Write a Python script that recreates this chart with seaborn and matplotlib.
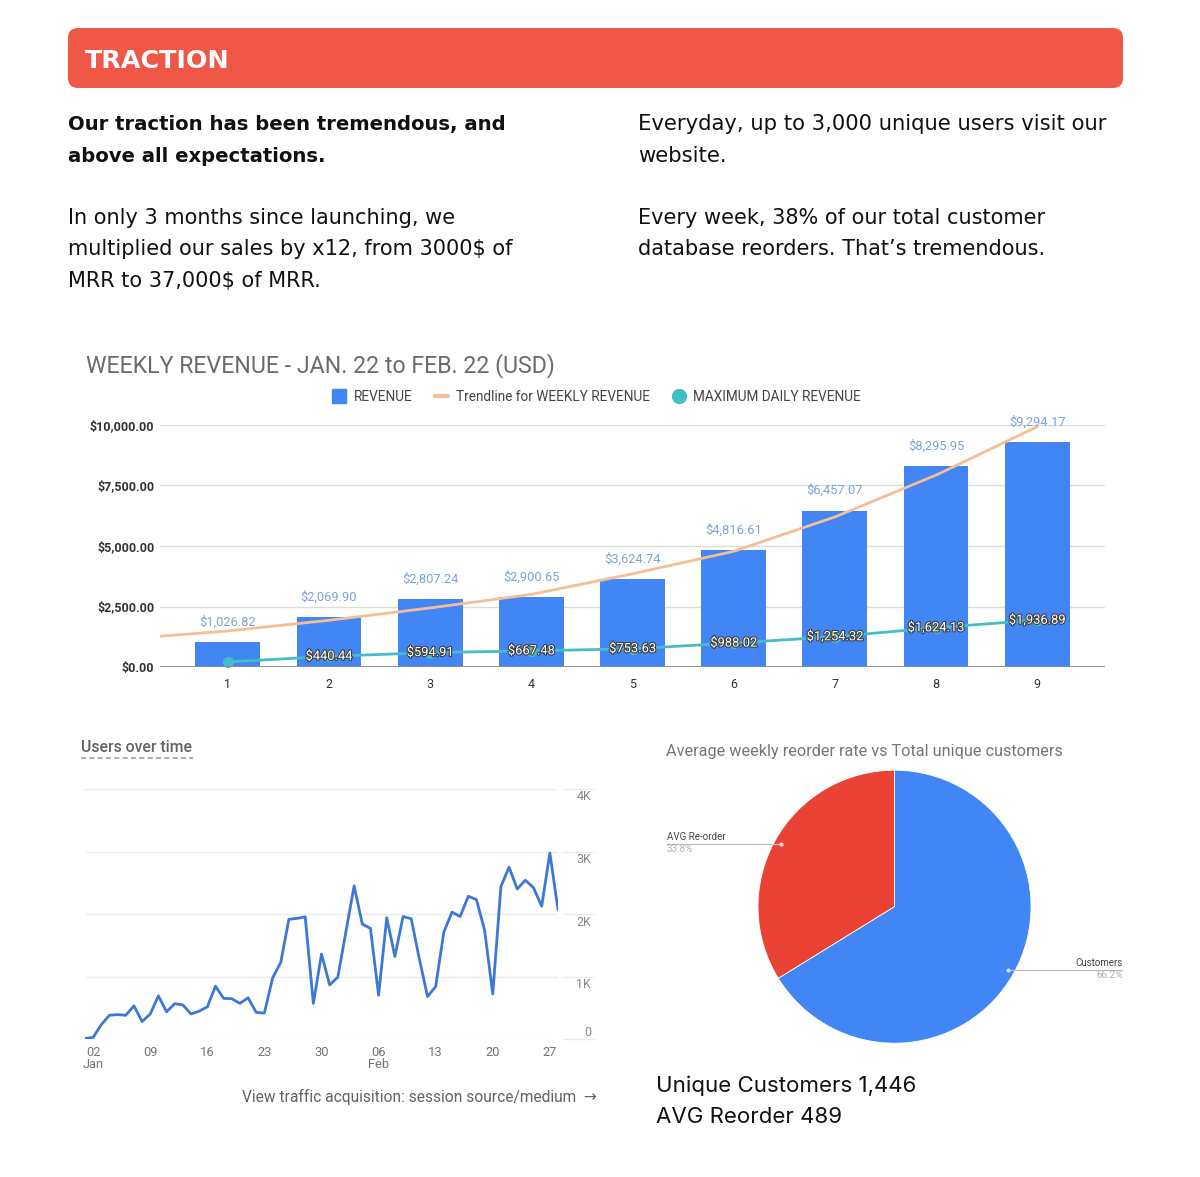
import numpy as np
import pandas as pd
import matplotlib
matplotlib.use("Agg")
import matplotlib.pyplot as plt
import matplotlib.patheffects as pe
import matplotlib.transforms as mtransforms
from matplotlib.patches import FancyBboxPatch
from matplotlib.lines import Line2D
import seaborn as sns

# ---------------- data ----------------
weeks = [1, 2, 3, 4, 5, 6, 7, 8, 9]
revenue = [1026.82, 2069.90, 2807.24, 2900.65, 3624.74, 4816.61, 6457.07, 8295.95, 9294.17]
max_daily = [210, 440.44, 594.91, 667.48, 753.63, 988.02, 1254.32, 1624.13, 1936.89]
trend_weeks = [0.33, 1, 2, 3, 4, 5, 6, 7, 8, 9]
trend_revenue = [1270, 1490, 1930, 2440, 3000, 3850, 4780, 6200, 7930, 9930]
revenue_ticks = [0, 2500, 5000, 7500, 10000]
legend_labels = ["REVENUE", "Trendline for WEEKLY REVENUE", "MAXIMUM DAILY REVENUE"]

users_jan = [10, 25, 230, 380, 390, 380, 530, 280, 400, 690, 435, 565, 545, 400, 445, 515,
             845, 650, 645, 570, 660, 425, 415, 975, 1225, 1915, 1930, 1955, 570, 1360, 865]
users_feb = [990, 1720, 2450, 1840, 1770, 700, 1940, 1320, 1960, 1925, 1280, 680, 840, 1710,
             2030, 1960, 2285, 2230, 1740, 720, 2440, 2750, 2400, 2540, 2420, 2125, 2975, 2070]
users_first_day = "2022-01-01"
users_tick_dates = ["2022-01-02", "2022-01-09", "2022-01-16", "2022-01-23", "2022-01-30",
                    "2022-02-06", "2022-02-13", "2022-02-20", "2022-02-27"]
users_tick_labels = ["02\nJan", "09", "16", "23", "30", "06\nFeb", "13", "20", "27"]
users_y_ticks = [0, 1000, 2000, 3000, 4000]
users_y_labels = ["0", "1K", "2K", "3K", "4K"]

pie_labels = ["AVG Re-order", "Customers"]
pie_shares = [33.8, 66.2]
unique_customers = 1446
avg_reorder = 489

# ---------------- style ----------------
sns.set_theme(style="white")
plt.rcParams["font.family"] = ["Roboto", "DejaVu Sans"]
TOP = ["DejaVu Sans"]
BOTTOM = ["Inter", "DejaVu Sans"]

BLUE = "#4285F4"
RED = "#EA4335"
TEAL = "#46BDC6"
PEACH = "#F5BE96"

W, H = 1200, 1177
fig = plt.figure(figsize=(12, 11.77), dpi=100)
fig.patch.set_facecolor("white")
renderer = fig.canvas.get_renderer()


def rect(x0, y0, x1, y1):
    return [x0 / W, 1 - y1 / H, (x1 - x0) / W, (y1 - y0) / H]


# background / text layer in pixel coordinates
bg = fig.add_axes([0, 0, 1, 1])
bg.set_xlim(0, W)
bg.set_ylim(H, 0)
bg.axis("off")


def text_block(x, lines, baselines, ref_idx, ref_width, **kw):
    """Draw a paragraph; one font size for the block, fitted to a reference line width."""
    arts = [bg.text(x, b, s, va="baseline", fontsize=14, **kw) for s, b in zip(lines, baselines)]
    w = arts[ref_idx].get_window_extent(renderer).width
    size = 14 * ref_width / w
    for a in arts:
        a.set_fontsize(size)
    return arts


bg.add_patch(FancyBboxPatch((68, 28), 1055, 60, boxstyle="round,pad=0,rounding_size=10",
                            fc="#EF5746", ec="none"))
text_block(85, ["TRACTION"], [68.5], 0, 145, color="white", fontweight="bold", family=TOP)

tcol = "#111111"
text_block(68, ["Our traction has been tremendous, and", "above all expectations."],
           [130, 161.5], 0, 440, fontweight="bold", family=TOP, color=tcol)
text_block(68, ["In only 3 months since launching, we",
                "multiplied our sales by x12, from 3000$ of",
                "MRR to 37,000$ of MRR."],
           [224, 255.3, 286.7], 1, 447, family=TOP, color=tcol)
text_block(638, ["Everyday, up to 3,000 unique users visit our", "website."],
           [130, 161.5], 0, 469, family=TOP, color=tcol)
text_block(638, ["Every week, 38% of our total customer",
                 "database reorders. That\u2019s tremendous."],
           [224, 255.3], 0, 410, family=TOP, color=tcol)

# ---------------- bar chart ----------------
text_block(86, ["WEEKLY REVENUE - JAN. 22 to FEB. 22 (USD)"], [372], 0, 470, color="#6b6b6b")

ax1 = fig.add_axes(rect(160, 425, 1105, 667))
ax1.set_facecolor("none")
sns.barplot(x=weeks, y=revenue, native_scale=True, width=0.64, color=BLUE, saturation=1,
            errorbar=None, ax=ax1, zorder=2, edgecolor="none")
sns.lineplot(x=trend_weeks, y=trend_revenue, color=PEACH, lw=2, ax=ax1, zorder=3)
sns.lineplot(x=weeks, y=max_daily, color=TEAL, lw=2, marker="o", markersize=8,
             markeredgewidth=0, ax=ax1, zorder=4)
ax1.set_xlim(0.33, 9.67)
ax1.set_ylim(0, 10000)
ax1.set_yticks(revenue_ticks)
ax1.set_yticklabels([f"${v:,.2f}" for v in revenue_ticks])
ax1.set_xticks(weeks)
ax1.set_xticklabels([str(w) for w in weeks])
ax1.yaxis.grid(True, color="#dcdcdc", lw=1)
ax1.set_axisbelow(True)
ax1.axhline(0, color="#8a8a8a", lw=2, zorder=5)
for s in ax1.spines.values():
    s.set_visible(False)
ax1.tick_params(axis="y", length=0, pad=4, labelsize=9, labelcolor="#333333")
ax1.tick_params(axis="x", length=0, pad=8, labelsize=9, labelcolor="#333333")
for lbl in ax1.get_yticklabels():
    lbl.set_fontweight("bold")
ax1.set_xlabel("")
ax1.set_ylabel("")

for w, r in zip(weeks, revenue):
    ax1.annotate(f"${r:,.2f}", (w, r), xytext=(0, 14.5), textcoords="offset points",
                 ha="center", va="center", fontsize=9.3, color="#7BA3DF", zorder=6)
for w, m in zip(weeks[1:], max_daily[1:]):
    ax1.text(w, m, f"${m:,.2f}", ha="center", va="center", fontsize=9.3, color="white",
             zorder=7, path_effects=[pe.withStroke(linewidth=1.6, foreground="#404040")])

handles = [Line2D([], [], marker="s", ls="none", color=BLUE, markersize=10),
           Line2D([], [], color=PEACH, lw=3),
           Line2D([], [], marker="o", ls="none", color=TEAL, markersize=10)]
fig.legend(handles, legend_labels, loc="center", bbox_to_anchor=(597 / W, 1 - 397 / H),
           ncol=3, frameon=False, fontsize=9.8, labelcolor="#444444", handlelength=0.9,
           handletextpad=0.6, columnspacing=1.7)

# ---------------- users over time ----------------
text_block(81, ["Users over time"], [752], 0, 111, color="#5f6368", fontweight="medium")
bg.plot([81, 193], [758, 758], ls=(0, (3, 2)), color="#9aa0a6", lw=1.2)

users = users_jan + users_feb
df_users = pd.DataFrame({"date": pd.date_range(users_first_day, periods=len(users), freq="D"),
                         "users": users})
ax2 = fig.add_axes(rect(85, 789, 558, 1039))
ax2.set_facecolor("none")
for v in users_y_ticks:
    ax2.axhline(v, color="#ececec", lw=1, zorder=0)
    ax2.axhline(v, xmin=1.011, xmax=1.076, color="#ececec", lw=1, zorder=0, clip_on=False)
sns.lineplot(data=df_users, x="date", y="users", color="#3b78d8", lw=2, ax=ax2, zorder=3)
ax2.set_xlim(df_users["date"].iloc[0], df_users["date"].iloc[-1])
ax2.set_ylim(0, 4000)
ax2.set_yticks([])
ax2.set_xticks(pd.to_datetime(users_tick_dates))
ax2.set_xticklabels(users_tick_labels, fontsize=9.3, color="#70757a", linespacing=0.95)
ax2.tick_params(axis="x", length=0, pad=5)
for s in ax2.spines.values():
    s.set_visible(False)
ax2.set_xlabel("")
ax2.set_ylabel("")
tr_below = mtransforms.offset_copy(ax2.get_yaxis_transform(), fig=fig, x=0, y=-8, units="dots")
tr_above = mtransforms.offset_copy(ax2.get_yaxis_transform(), fig=fig, x=0, y=7, units="dots")
for v, lab in zip(users_y_ticks, users_y_labels):
    ax2.text(1.07, v, lab, ha="right", va="center", fontsize=9, color="#80868b",
             transform=tr_above if v == 0 else tr_below)

text_block(242, ["View traffic acquisition: session source/medium  \u2192"], [1101.7], 0, 356,
           color="#5f6368")

# ---------------- pie ----------------
text_block(666, ["Average weekly reorder rate vs Total unique customers"], [756], 0, 398,
           color="#757575")
ax3 = fig.add_axes(rect(758, 770, 1031, 1043.4))
ax3.set_facecolor("none")
wedges, _ = ax3.pie(pie_shares, colors=[RED, BLUE], startangle=90, counterclock=True,
                    radius=1, wedgeprops=dict(linewidth=0.6, edgecolor="white"))
ax3.set_xlim(-1, 1)
ax3.set_ylim(-1, 1)
ax3.set_aspect("equal")
for wdg, lab, share in zip(wedges, pie_labels, pie_shares):
    ang = np.deg2rad((wdg.theta1 + wdg.theta2) / 2)
    x0, y0 = 0.95 * np.cos(ang), 0.95 * np.sin(ang)
    side = np.sign(np.cos(ang))
    xe = side * 1.67
    ax3.plot([x0, xe], [y0, y0], color="#bdbdbd", lw=0.9, clip_on=False)
    ax3.plot([x0], [y0], marker="o", markersize=2, color="#dddddd", clip_on=False)
    ha = "left" if side < 0 else "right"
    ax3.text(xe, y0 + 0.048, lab, ha=ha, va="center", fontsize=7, color="#444444",
             clip_on=False)
    ax3.text(xe, y0 - 0.04, f"{share:.1f}%", ha=ha, va="center", fontsize=7,
             color="#b0b0b0", clip_on=False)

text_block(656, [f"Unique Customers {unique_customers:,}", f"AVG Reorder {avg_reorder}"],
           [1091.7, 1123.3], 0, 260, family=BOTTOM, color="#111111")

fig.savefig("out.png", dpi=100, facecolor="white")
